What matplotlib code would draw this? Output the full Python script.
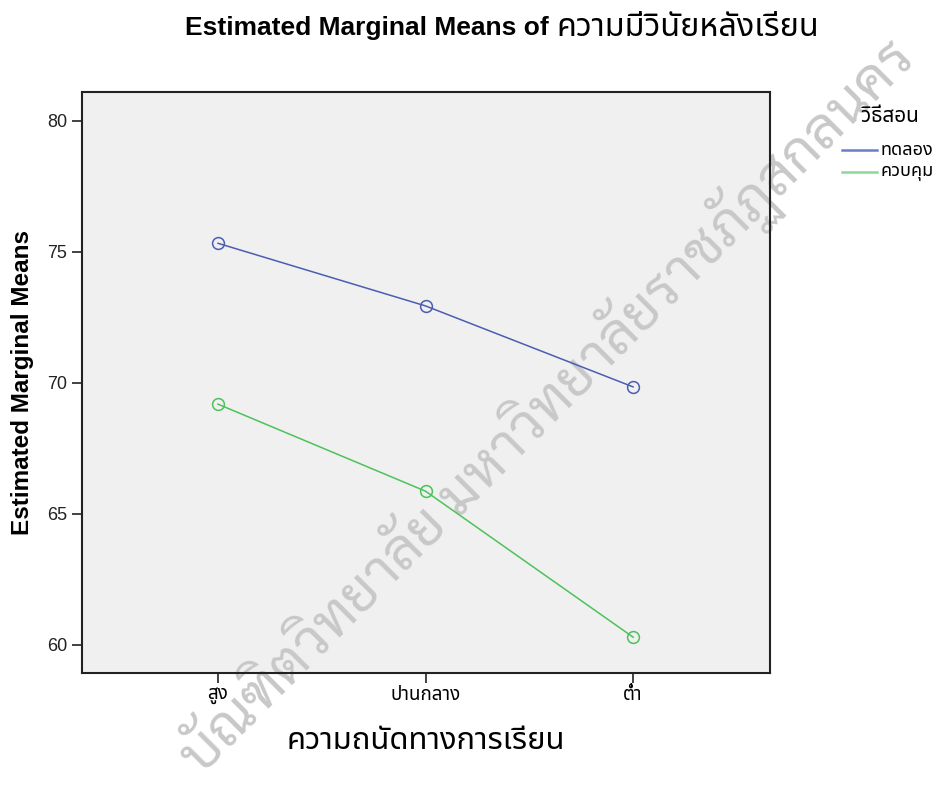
import matplotlib
matplotlib.use("Agg")
import matplotlib.pyplot as plt

# data
aptitude = ["สูง", "ปานกลาง", "ต่ำ"]
groups = ["ทดลอง", "ควบคุม"]
experimental = [75.33, 72.94, 69.85]
control = [69.19, 65.87, 60.30]
colors = ["#4a5db3", "#4cc25a"]
legend_colors = ["#6a7dc8", "#8cd896"]

latin = ["Liberation Sans", "Noto Sans Thai"]
thai = ["Noto Sans Thai", "Liberation Sans"]

fig = plt.figure(figsize=(9.43, 7.98), dpi=100)
ax = fig.add_axes([0.087, 0.1566, 0.7296, 0.728])
ax.set_facecolor("#f0f0f0")

x = range(len(aptitude))
for vals, c in zip([experimental, control], colors):
    ax.plot(x, vals, color=c, lw=1.1, marker="o", ms=8.5, mfc="none", mec=c, mew=1.1, zorder=3)

ax.set_xlim(-0.655, 2.66)
ax.set_ylim(58.93, 81.1)
ax.set_yticks([60, 65, 70, 75, 80])
ax.set_xticks(list(x))
ax.set_xticklabels(aptitude, family=thai, fontsize=13.5)
for t in ax.get_yticklabels():
    t.set_family(latin)
    t.set_fontsize(13)
    t.set_color("#222222")
ax.tick_params(axis="both", direction="out", length=7, width=1.2, color="#222222")
ax.tick_params(axis="x", pad=2)
for s in ax.spines.values():
    s.set_linewidth(1.5)
    s.set_color("#222222")

ax.set_xlabel("ความถนัดทางการเรียน", family=thai, fontsize=22.3, va="center")
ax.xaxis.set_label_coords(0.5, -0.117)
ax.set_ylabel("Estimated Marginal Means", family=latin, fontsize=17.5,
              fontweight="bold", va="center")
ax.yaxis.set_label_coords(-0.087, 0.5)

# title: bold latin part + regular thai part
renderer = fig.canvas.get_renderer()
t1 = fig.text(185 / 943, 1 - 28 / 798, "Estimated Marginal Means of ", family=latin,
              fontsize=19, fontweight="bold", va="center", ha="left")
bb = t1.get_window_extent(renderer)
fig.text(bb.x1 / fig.bbox.width, 1 - 28 / 798, "ความมีวินัยหลังเรียน", family=thai,
         fontsize=23.3, va="center", ha="left")

# legend drawn by hand (SPSS style: title above, short lines)
W, H = 943, 798
fig.text(891 / W, 1 - 117 / H, "วิธีสอน", family=thai, fontsize=15,
         ha="center", va="center")
for i, (g, c) in enumerate(zip(groups, legend_colors)):
    yy = 1 - (150 + 22 * i) / H
    fig.add_artist(plt.Line2D([842 / W, 877 / W], [yy, yy], color=c, lw=1.8))
    fig.text(881 / W, yy, g, family=thai, fontsize=13, ha="left", va="center")

# light grey watermark across the figure, under the data lines
ax.text(0.58, 0.49, "บัณฑิตวิทยาลัย มหาวิทยาลัยราชภัฏสกลนคร",
        family=["Sarabun"], fontsize=41, rotation=45,
        rotation_mode="anchor", ha="center", va="center", color="#c8c8c8",
        transform=fig.transFigure, clip_on=False, zorder=2.5)

fig.savefig("out.png", dpi=100)
